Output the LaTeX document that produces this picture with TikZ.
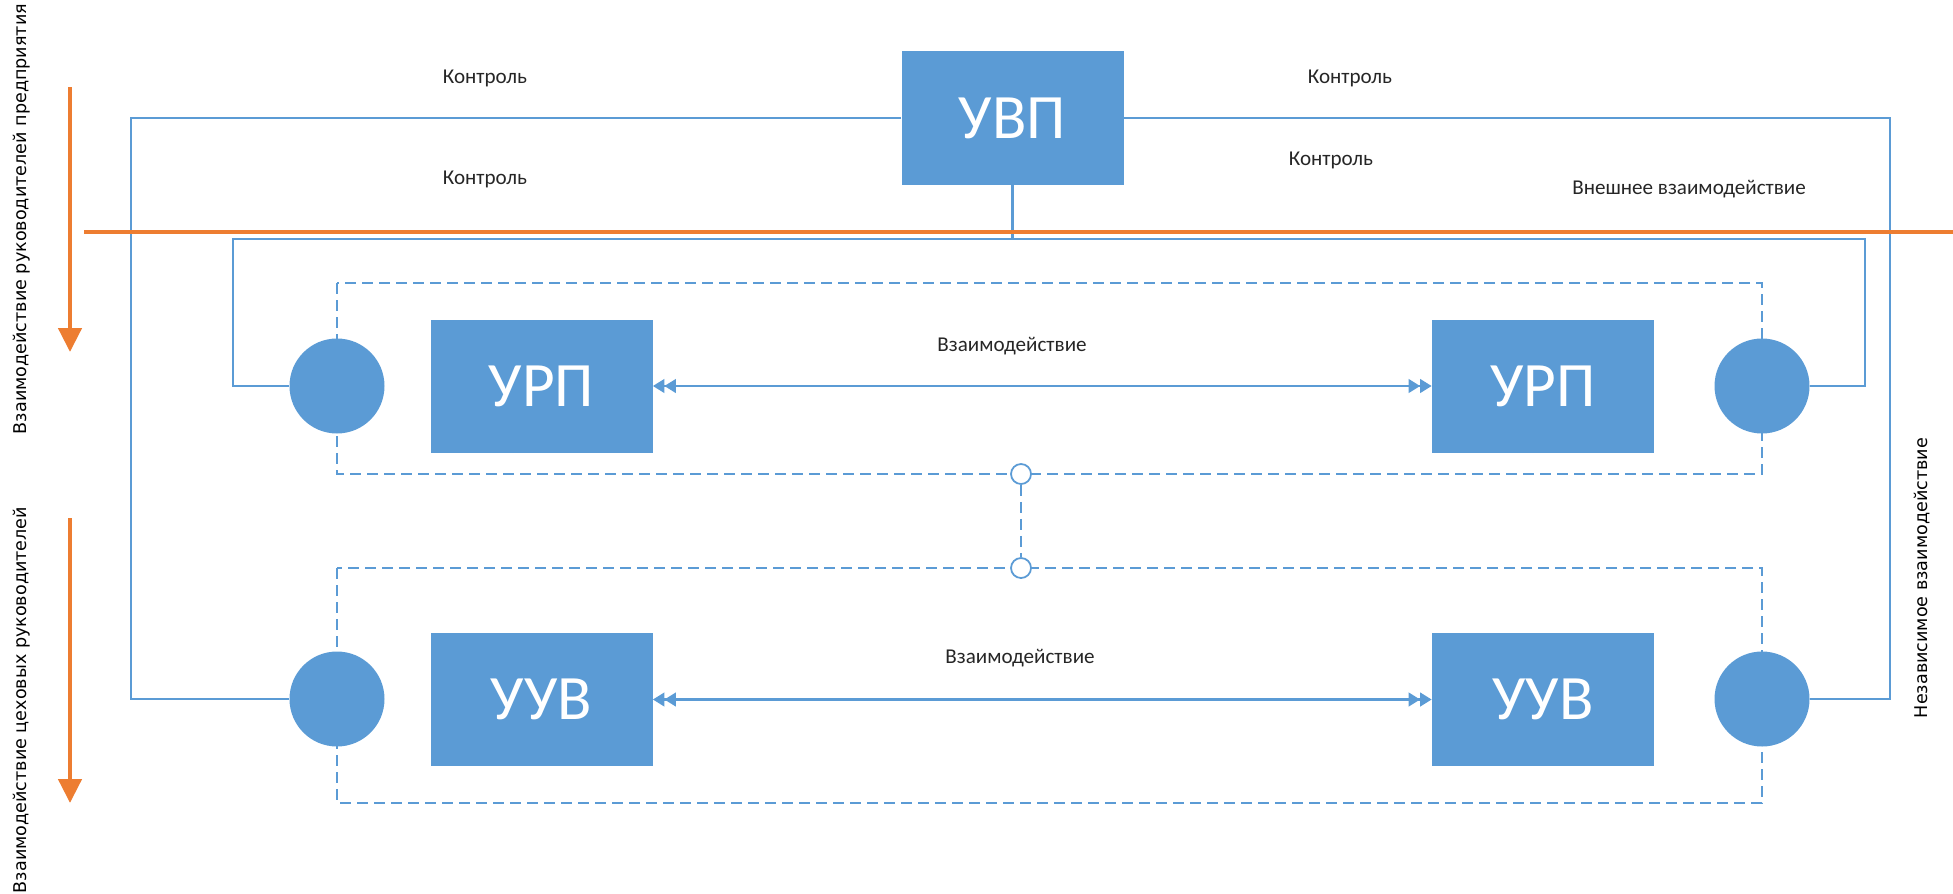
\documentclass[tikz,border=0pt]{standalone}
\usepackage{fontspec}
\setmainfont{Carlito}
\newfontfamily\sidefont{DejaVu Sans}
\usetikzlibrary{arrows.meta}

\definecolor{boxblue}{HTML}{5B9BD5}
\definecolor{lineblue}{HTML}{5B9BD5}
\definecolor{divorange}{HTML}{ED7D31}

\tikzset{
	unit/.style={rectangle, fill=boxblue, text=white, minimum width=44.4mm, minimum height=26.6mm, inner sep=0pt, font=\fontsize{36}{40}\selectfont},
	hub/.style={circle, fill=boxblue, minimum size=19mm, inner sep=0pt},
	joint/.style={circle, draw=lineblue, fill=white, line width=1pt, minimum size=4mm, inner sep=0pt},
	link/.style={draw=lineblue, line width=1.4pt},
	frame/.style={draw=lineblue, line width=1.3pt, dash pattern=on 2.2mm off 1.2mm},
	divider/.style={draw=divorange, line width=2.6pt},
	lbl/.style={font=\fontsize{12}{14}\selectfont, text=black!85},
	side/.style={font=\sidefont\fontsize{10}{12}\selectfont, rotate=90},
	dbltip/.tip={Triangle[length=2.3mm,width=2.7mm] Triangle[length=2.3mm,width=2.7mm]}
}

\begin{document}
\begin{tikzpicture}[x=0.2mm, y=-0.2mm]
	\useasboundingbox (0,0) rectangle (1953,893);
	\draw[frame] (337,283) rectangle (1762,474);
	\draw[frame] (337,568) rectangle (1762,803);

	\node[unit] (uvp) at (1012.5,118) {УВП};
	\node[unit] (urpL) at (541.5,386) {УРП};
	\node[unit] (urpR) at (1543,386) {УРП};
	\node[unit] (uuvL) at (541.5,699.5) {УУВ};
	\node[unit] (uuvR) at (1543,699.5) {УУВ};
	\node[hub] (hubLT) at (337,386) {};
	\node[hub] (hubRT) at (1762,386) {};
	\node[hub] (hubLB) at (337,699) {};
	\node[hub] (hubRB) at (1762,699) {};
	\node[joint] (jTop) at (1021,474) {};
	\node[joint] (jBot) at (1021,568) {};

	\coordinate (outL) at (131,118);
	\coordinate (outR) at (1890,118);
	\coordinate (inL) at (233,239);
	\coordinate (inR) at (1865,239);

	\draw[link] (uvp.west) -- (outL) |- (hubLB.west);
	\draw[link] (uvp.east) -- (outR) |- (hubRB.east);
	\draw[link] (hubLT.west) -| (inL) -- (inR) |- (hubRT.east);
	\draw[link] (uvp.south) -- (uvp.south |- inL);
	\draw[link, dbltip-dbltip] (urpL.east) -- (urpR.west);
	\draw[link, dbltip-dbltip] (uuvL.east) -- (uuvR.west);
	\draw[frame] (jTop) -- (jBot);

	\node[lbl] (ctlA) at (485,78) {Контроль};
	\node[lbl] (ctlB) at (485,179) {Контроль};
	\node[lbl] (ctlC) at (1350,78) {Контроль};
	\node[lbl] (ctlD) at (1331,160) {Контроль};
	\node[lbl] (ext) at (1689,189) {Внешнее взаимодействие};
	\node[lbl] (actTop) at (1012,346) {Взаимодействие};
	\node[lbl] (actBot) at (1020,658) {Взаимодействие};

	\node[side] (sideTop) at (22,219) {Взаимодействие руководителей предприятия};
	\node[side] (sideBot) at (22,700) {Взаимодействие цеховых руководителей};
	\node[side] (sideRight) at (1922,578) {Независимое взаимодействие};

	\draw[divider] (84,232) -- (1953,232);
	\draw[divider, -{Triangle[length=4.8mm,width=4.6mm]}] (70,87) -- (70,352);
	\draw[divider, -{Triangle[length=4.8mm,width=4.6mm]}] (70,518) -- (70,803);
\end{tikzpicture}
\end{document}
